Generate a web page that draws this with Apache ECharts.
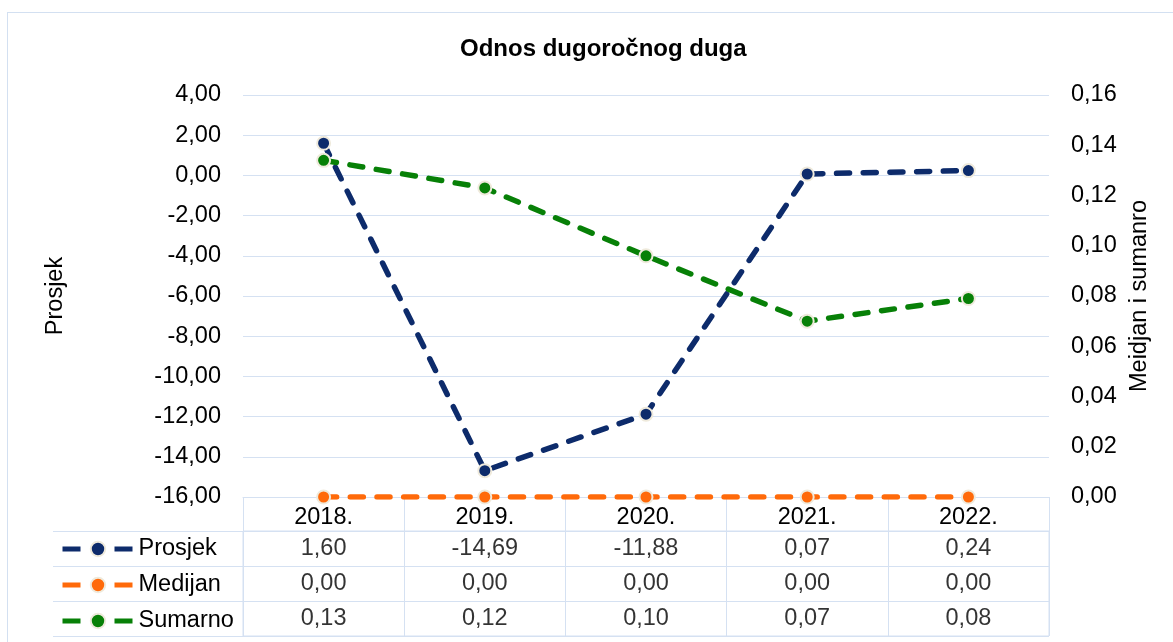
<!DOCTYPE html>
<html>
<head>
<meta charset="utf-8">
<script src="https://cdn.jsdelivr.net/npm/echarts@6/dist/echarts.min.js"></script>
<style>
  html, body { margin: 0; padding: 0; background: #fff; }
  #frame { position: absolute; left: 7px; top: 12px; width: 1200px; height: 700px; border: 1px solid #d3e0f1; }
  #chart-container { position: absolute; left: 0; top: 0; width: 1173px; height: 642px; }
</style>
</head>
<body>
<div id="frame"></div>
<div id="chart-container"></div>
<script>
var dom = document.getElementById("chart-container");
var myChart = echarts.init(dom, null, { renderer: "canvas" });

const years = ["2018.", "2019.", "2020.", "2021.", "2022."];
const rowNames = ["Prosjek", "Medijan", "Sumarno"];
const prosjek = [1.6, -14.69, -11.88, 0.07, 0.24];
const medijan = [0, 0, 0, 0, 0];
const sumarno = [0.134, 0.123, 0.096, 0.07, 0.079];

const colors = { Prosjek: "#0d2b6b", Medijan: "#ff6a0a", Sumarno: "#078007" };
const gridColor = "#d5e1f2";
const font = "Liberation Sans, Arial, sans-serif";
const fs = 23.5;

// broj u hrvatskom formatu
function fmt(v) {
  return v.toFixed(2).replace(".", ",");
}

// celije tablice ispod grafa
const tableData = [];
[prosjek, medijan, sumarno].forEach((arr, r) => {
  arr.forEach((v, i) => {
    tableData.push([years[i], rowNames[r], fmt(v)]);
  });
});

function lineSeries(name, data, yIdx) {
  return {
    name: name,
    type: "line",
    xAxisIndex: 0,
    yAxisIndex: yIdx,
    data: data,
    symbol: "circle",
    symbolSize: 13,
    z: 5,
    lineStyle: { color: colors[name], width: 5.5, type: [13, 13.7], cap: "round" },
    itemStyle: { color: colors[name], borderColor: "#efeadc", borderWidth: 2 },
  };
}

var option = {
  animation: false,
  textStyle: { fontFamily: font },
  title: {
    text: "Odnos dugoročnog duga",
    left: 455,
    top: 32,
    textStyle: { fontSize: 24, fontWeight: "bold", color: "#000", fontFamily: font },
  },
  legend: {
    orient: "vertical",
    left: 60,
    top: 537,
    padding: 0,
    itemWidth: 71,
    itemHeight: 18,
    itemGap: 12,
    data: rowNames,
    lineStyle: { width: 5, type: [18, 34], cap: "butt" },
    textStyle: { fontSize: fs, color: "#000", fontFamily: font },
  },
  grid: [
    { left: 243, right: 124, top: 95, height: 402 },
    { left: 243, right: 124, top: 531, height: 105, show: true, borderColor: gridColor, borderWidth: 1 },
  ],
  xAxis: [
    {
      type: "category",
      gridIndex: 0,
      data: years,
      boundaryGap: true,
      axisLine: { onZero: false, lineStyle: { color: gridColor, width: 1 } },
      axisTick: { show: true, length: 34, inside: false, lineStyle: { color: gridColor, width: 1 } },
      axisLabel: { fontSize: fs, color: "#000", margin: 9, fontFamily: font },
    },
    {
      type: "category",
      gridIndex: 1,
      data: years,
      boundaryGap: true,
      axisLine: { show: false },
      axisTick: { show: false },
      axisLabel: { show: false },
      splitLine: { show: true, lineStyle: { color: gridColor, width: 1 } },
    },
  ],
  yAxis: [
    {
      type: "value",
      gridIndex: 0,
      min: -16,
      max: 4,
      interval: 2,
      name: "Prosjek",
      nameLocation: "middle",
      nameRotate: 90,
      nameGap: 175,
      nameTextStyle: { fontSize: fs, color: "#000", fontFamily: font },
      axisLine: { show: false },
      axisTick: { show: false },
      axisLabel: { fontSize: fs, color: "#000", margin: 22, formatter: fmt, fontFamily: font },
      splitLine: { lineStyle: { color: gridColor, width: 1 } },
    },
    {
      type: "value",
      gridIndex: 0,
      position: "right",
      min: 0,
      max: 0.16,
      interval: 0.02,
      name: "Meidjan i sumanro",
      nameLocation: "middle",
      nameRotate: 90,
      nameGap: 72,
      nameTextStyle: { fontSize: fs, color: "#000", fontFamily: font },
      axisLine: { show: false },
      axisTick: { show: false },
      axisLabel: { fontSize: fs, color: "#000", margin: 22, formatter: fmt, fontFamily: font },
      splitLine: { show: false },
    },
    {
      type: "category",
      gridIndex: 1,
      data: rowNames,
      inverse: true,
      boundaryGap: true,
      axisLine: { show: true, lineStyle: { color: gridColor, width: 1 } },
      axisTick: { show: true, length: 190, lineStyle: { color: gridColor, width: 1 } },
      axisLabel: { show: false },
      splitLine: { show: true, lineStyle: { color: gridColor, width: 1 } },
    },
    {
      type: "category",
      gridIndex: 1,
      data: rowNames,
      inverse: true,
      offset: 190,
      axisLine: { show: true, lineStyle: { color: gridColor, width: 1 } },
      axisTick: { show: false },
      axisLabel: { show: false },
    },
  ],
  series: [
    lineSeries("Prosjek", prosjek, 0),
    lineSeries("Medijan", medijan, 1),
    lineSeries("Sumarno", sumarno, 1),
    {
      name: "tablica",
      type: "scatter",
      xAxisIndex: 1,
      yAxisIndex: 2,
      data: tableData,
      symbolSize: 1,
      itemStyle: { color: "rgba(0,0,0,0)" },
      label: {
        show: true,
        position: "inside",
        fontSize: fs,
        color: "#000",
        fontFamily: font,
        formatter: (p) => p.value[2],
      },
      silent: true,
    },
  ],
};

myChart.setOption(option);
window.addEventListener("resize", myChart.resize);
</script>
</body>
</html>
